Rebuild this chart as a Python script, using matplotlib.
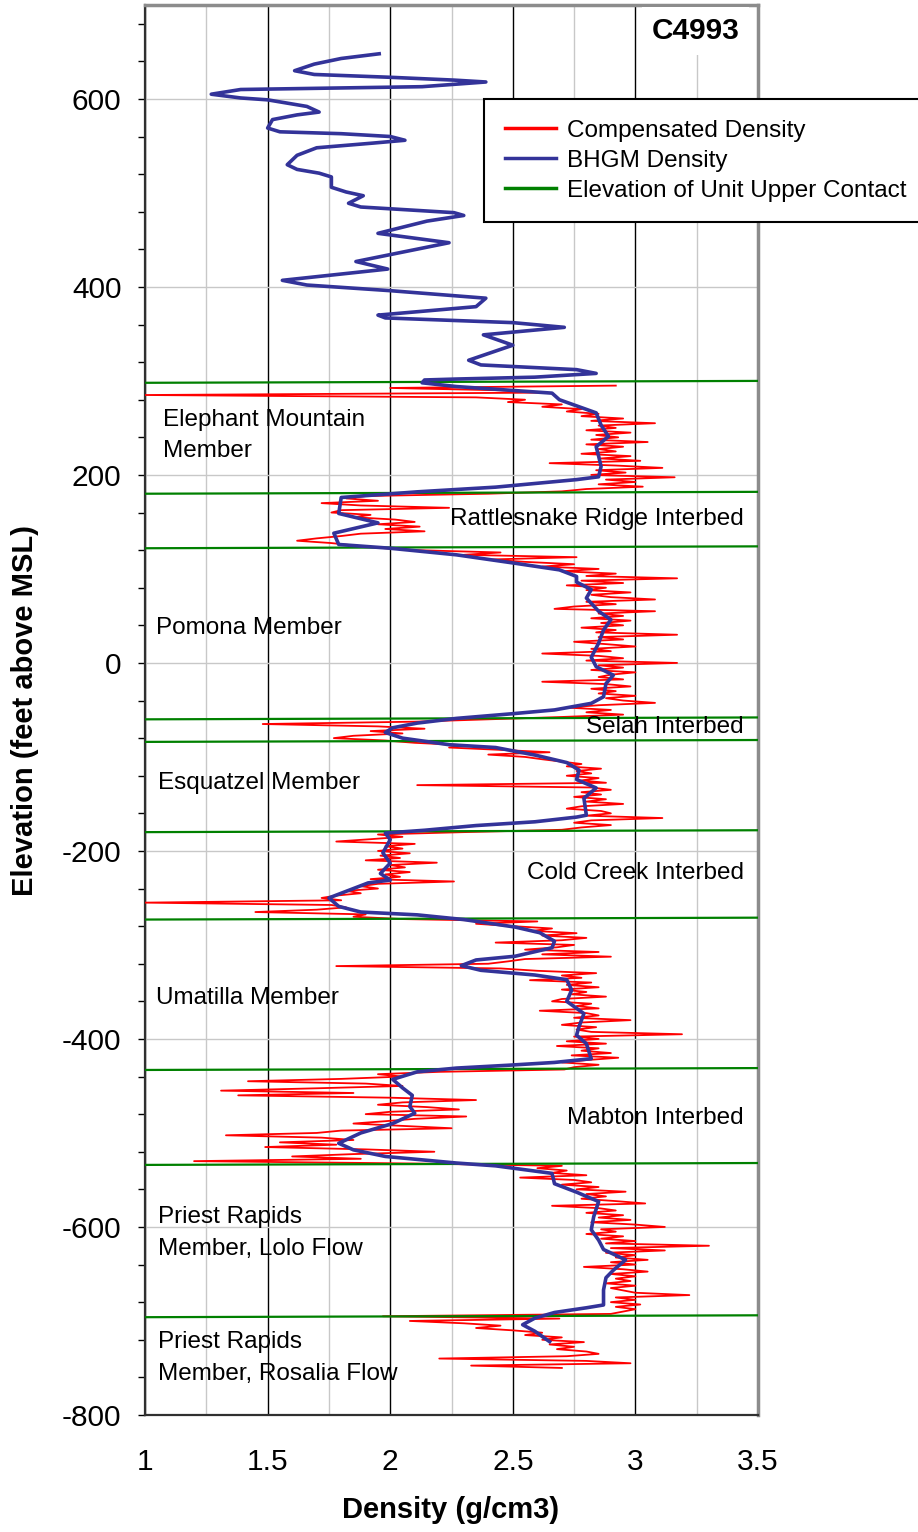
import numpy as np
import matplotlib.pyplot as plt
from matplotlib.lines import Line2D
from matplotlib.ticker import MultipleLocator, FuncFormatter

plt.rcParams['font.family'] = ['Liberation Sans', 'DejaVu Sans']
plt.rcParams['axes.unicode_minus'] = False

# BHGM density profile: elevation (ft above MSL) and density (g/cm3)
bhgm_elev = [648, 643, 637, 630, 626, 623, 620, 618, 613, 610, 605, 601, 599, 592, 586, 583,
             578, 569, 565, 563, 560, 556, 553, 548, 540, 530, 525, 521, 517, 506, 501, 497,
             489, 485, 482, 479, 476, 470, 457, 447, 427, 419, 407, 402, 396, 390, 388, 379,
             370, 367, 362, 357, 349, 338, 322, 317, 312, 308, 304, 302, 301, 298, 294, 287,
             280, 266, 253, 241, 230, 220, 209, 198, 195, 187, 182, 176, 159, 149, 138, 126,
             122, 115, 106, 99, 92, 86, 78, 69, 55, 46, 35, 21, 6, -4, -13, -22,
             -36, -43, -50, -54, -59, -64, -69, -74, -80, -87, -90, -98, -106, -114, -124, -133,
             -144, -162, -164, -169, -173, -178, -181, -188, -202, -213, -224, -231, -234, -240, -250, -259,
             -265, -268, -273, -281, -287, -296, -303, -312, -316, -322, -327, -332, -337, -348, -360, -373,
             -387, -396, -405, -421, -425, -428, -431, -435, -443, -452, -460, -472, -479, -490, -500, -511,
             -518, -525, -532, -535, -543, -554, -563, -573, -589, -603, -614, -624, -635, -646, -654, -667,
             -683, -686, -691, -697, -704, -711, -722]
bhgm_density = [1.955, 1.80, 1.69, 1.61, 1.69, 2.00, 2.26, 2.39, 2.13, 1.39, 1.27, 1.39, 1.50, 1.66, 1.71, 1.62,
                1.52, 1.50, 1.55, 1.80, 2.00, 2.06, 1.93, 1.70, 1.62, 1.58, 1.62, 1.71, 1.76, 1.76, 1.82, 1.89,
                1.83, 1.88, 2.07, 2.26, 2.30, 2.15, 1.95, 2.24, 1.86, 1.99, 1.56, 1.66, 2.00, 2.29, 2.39, 2.35,
                1.95, 1.98, 2.50, 2.71, 2.38, 2.50, 2.32, 2.37, 2.76, 2.84, 2.59, 2.27, 2.14, 2.13, 2.27, 2.66,
                2.69, 2.84, 2.86, 2.89, 2.84, 2.85, 2.86, 2.85, 2.76, 2.43, 2.11, 1.80, 1.79, 1.95, 1.77, 1.79,
                2.00, 2.27, 2.51, 2.69, 2.76, 2.76, 2.82, 2.80, 2.85, 2.90, 2.87, 2.85, 2.82, 2.84, 2.91, 2.88,
                2.87, 2.82, 2.67, 2.50, 2.27, 2.11, 2.01, 1.98, 2.05, 2.24, 2.43, 2.59, 2.72, 2.77, 2.76, 2.84,
                2.79, 2.80, 2.76, 2.59, 2.35, 2.14, 1.98, 2.00, 1.97, 2.00, 1.96, 2.00, 1.91, 1.85, 1.75, 1.79,
                1.88, 2.11, 2.30, 2.51, 2.61, 2.67, 2.66, 2.51, 2.35, 2.29, 2.37, 2.59, 2.72, 2.74, 2.72, 2.79,
                2.77, 2.76, 2.80, 2.82, 2.67, 2.48, 2.27, 2.11, 2.01, 2.05, 2.09, 2.08, 2.10, 2.01, 1.88, 1.79,
                1.85, 1.98, 2.27, 2.43, 2.66, 2.67, 2.76, 2.85, 2.83, 2.82, 2.85, 2.87, 2.96, 2.91, 2.88, 2.87,
                2.87, 2.80, 2.67, 2.59, 2.54, 2.59, 2.65]

# compensated density log, sampled every 2.5 ft from 295 ft down to -750 ft,
# one list per unit
comp_top = 295
comp_step = 2.5
comp_elephant = [2.92, 2.00, 2.45, 2.60, 1.00, 2.35, 2.55, 2.48, 2.70, 2.62,
                 2.78, 2.72, 2.85, 2.78, 2.95, 2.82, 3.08, 2.85, 2.92, 2.80,
                 2.98, 2.84, 2.93, 2.82, 3.05, 2.80, 2.95, 2.85, 2.92, 2.78,
                 2.98, 2.86, 3.02, 2.65, 2.92, 3.11, 2.84, 2.96, 2.82, 3.16,
                 2.88, 3.00, 2.85, 3.03, 2.80, 2.70]
comp_rattlesnake = [2.40, 1.90, 1.82, 1.95, 1.72, 1.88, 2.24, 1.80, 1.76, 1.92,
                    1.85, 2.02, 2.10, 1.95, 2.12, 1.98, 2.14, 1.88, 1.80, 1.70,
                    1.62, 1.76, 1.85, 1.95]
comp_pomona = [2.10, 2.45, 2.30, 2.76, 2.40, 2.55, 2.75, 2.62, 2.85, 2.70, 2.92,
               2.80, 3.17, 2.78, 2.95, 2.72, 2.88, 2.80, 2.98, 2.82, 2.90,
               3.08, 2.80, 2.92, 2.75, 2.67, 3.08, 2.85, 2.95, 2.82, 2.98,
               2.86, 2.95, 2.78, 2.92, 2.84, 3.17, 2.85, 2.95, 2.75, 2.88,
               3.00, 2.82, 2.90, 2.62, 2.85, 2.95, 2.80, 3.17, 2.85, 2.95,
               2.82, 3.00, 2.90, 2.85, 2.95, 2.62, 2.88, 2.98, 2.82, 2.92,
               2.85, 3.00, 2.88, 2.95, 3.08, 2.85, 2.72, 2.90, 2.80, 2.95,
               2.70]
comp_selah = [2.40, 2.10, 1.48, 1.95, 2.14, 1.92, 2.05, 1.85, 1.77, 1.98]
comp_esquatzel = [2.10, 2.30, 2.24, 2.45, 2.65, 2.40, 2.55, 2.62, 2.70, 2.78,
                  2.72, 2.86, 2.76, 2.82, 2.72, 2.85, 2.78, 2.88, 2.11, 2.82,
                  2.90, 2.78, 2.86, 2.75, 2.88, 2.80, 2.95, 2.78, 2.72, 2.86,
                  2.90, 2.80, 3.11, 2.82, 2.75, 2.90, 2.78, 2.70]
comp_cold_creek = [2.30, 1.95, 2.05, 1.92, 1.78, 2.10, 1.98, 2.05, 1.95, 2.08,
                   1.96, 2.04, 1.90, 2.19, 2.00, 2.06, 1.95, 2.08, 1.98, 2.04,
                   1.92, 2.26, 1.95, 1.88, 1.95, 1.82, 1.88, 1.78, 1.72, 1.80,
                   1.00, 1.76, 1.82, 1.70, 1.45, 1.90, 1.85, 2.05]
comp_umatilla = [2.60, 2.35, 2.50, 2.66, 2.58, 2.76, 2.62, 2.80, 2.70, 2.43,
                 2.75, 2.68, 2.55, 2.85, 2.62, 2.90, 2.55, 2.48, 2.40, 1.78,
                 2.45, 2.60, 2.84, 2.70, 2.78, 2.57, 2.82, 2.72, 2.85, 2.70,
                 2.80, 2.74, 2.88, 2.70, 2.66, 2.82, 2.76, 2.85, 2.61, 2.80,
                 2.85, 2.75, 2.98, 2.78, 2.70, 2.84, 2.76, 2.82, 3.19, 2.75,
                 2.85, 2.72, 2.88, 2.68, 2.85, 2.78, 2.90, 2.74, 2.93, 2.80,
                 2.70, 2.85, 2.75, 2.71]
comp_mabton = [2.20, 1.95, 2.05, 1.80, 1.42, 1.90, 2.05, 1.70, 1.31, 1.85,
               1.38, 2.00, 2.35, 2.05, 1.95, 2.15, 2.28, 2.00, 1.90, 2.31,
               2.10, 1.98, 1.85, 2.05, 2.25, 1.80, 1.70, 1.33, 1.72, 1.85,
               1.55, 1.78, 1.49, 1.90, 2.18, 1.85, 1.60, 1.88, 1.20, 2.10]
comp_lolo = [2.70, 2.60, 2.72, 2.66, 2.80, 2.53, 2.75, 2.82, 2.70, 2.85,
             2.76, 2.96, 2.80, 2.88, 2.78, 2.92, 3.04, 2.66, 2.85, 2.92,
             2.80, 2.95, 2.85, 2.98, 2.82, 3.00, 3.12, 2.86, 2.92, 2.80,
             2.95, 2.86, 3.00, 2.88, 3.30, 2.90, 3.12, 2.88, 3.00, 2.92,
             3.05, 2.90, 3.00, 2.79, 2.95, 3.05, 2.90, 3.00, 2.92, 2.98,
             2.88, 3.00, 2.90, 2.95, 3.00, 3.22, 2.92, 3.00, 2.90, 3.02,
             2.92, 3.00, 2.95, 2.90]
comp_rosalia = [1.97, 2.69, 2.08, 2.30, 2.45, 2.35, 2.50, 2.62, 2.55, 2.70,
                2.62, 2.79, 2.65, 2.75, 2.68, 2.80, 2.85, 2.72, 2.20, 2.80,
                2.98, 2.33, 2.70]

# elevation of each unit's upper contact (ft), left and right ends
contact_left = [298, 180, 122, -60, -84, -180, -273, -433, -534, -696]
contact_right = [300, 182, 124, -58, -82, -178, -271, -431, -532, -694]

unit_names = ['Elephant Mountain\nMember', 'Rattlesnake Ridge Interbed', 'Pomona Member',
              'Selah Interbed', 'Esquatzel Member', 'Cold Creek Interbed', 'Umatilla Member',
              'Mabton Interbed', 'Priest Rapids\nMember, Lolo Flow',
              'Priest Rapids\nMember, Rosalia Flow']

comp_density = np.concatenate([comp_elephant, comp_rattlesnake, comp_pomona, comp_selah,
                               comp_esquatzel, comp_cold_creek, comp_umatilla, comp_mabton,
                               comp_lolo, comp_rosalia])
comp_elev = comp_top - comp_step * np.arange(len(comp_density))

fig = plt.figure(figsize=(9.18, 15.32), dpi=100)
ax = fig.add_axes([0.158, 0.0764, 0.6677, 0.9204])

red = '#ff0000'
blue = '#333399'
green = '#008000'

ax.plot(comp_density, comp_elev, color=red, lw=1.3, zorder=3)
for yl, yr in zip(contact_left, contact_right):
    ax.plot([1, 3.5], [yl, yr], color=green, lw=1.6, zorder=4)
ax.plot(bhgm_density, bhgm_elev, color=blue, lw=2.6, zorder=5, solid_joinstyle='round')

ax.set_xlim(1, 3.5)
ax.set_ylim(-800, 700)
ax.xaxis.set_major_locator(MultipleLocator(0.5))
ax.xaxis.set_minor_locator(MultipleLocator(0.25))
ax.yaxis.set_major_locator(MultipleLocator(200))
ax.yaxis.set_minor_locator(MultipleLocator(40))
ax.xaxis.set_major_formatter(FuncFormatter(lambda v, p: '%g' % v))

ax.grid(which='major', axis='x', color='black', lw=1.0)
ax.grid(which='minor', axis='x', color='#c8c8c8', lw=1.0)
ax.grid(which='major', axis='y', color='#c8c8c8', lw=1.0)
ax.set_axisbelow(True)

ax.tick_params(axis='x', which='both', length=0, pad=24, labelsize=21.5)
ax.tick_params(axis='y', which='both', direction='out', length=5, width=1, pad=12, labelsize=21.5)

for side in ['top', 'right']:
    ax.spines[side].set_color('#8c8c8c')
    ax.spines[side].set_linewidth(2.5)
for side in ['left', 'bottom']:
    ax.spines[side].set_color('#303030')
    ax.spines[side].set_linewidth(1.6)

# unit names: (x, elevation, alignment)
places = [(1.073, 242, 'left'), (3.441, 153, 'right'), (1.045, 37, 'left'),
          (3.441, -68, 'right'), (1.053, -128, 'left'), (3.441, -223, 'right'),
          (1.045, -356, 'left'), (3.441, -484, 'right'), (1.053, -606, 'left'),
          (1.053, -739, 'left')]
for name, (x, y, ha) in zip(unit_names, places):
    ax.text(x, y, name, ha=ha, va='center', fontsize=17.5, linespacing=1.58, zorder=6)

ax.text(3.245, 672, 'C4993', ha='center', va='center', fontsize=21.5, weight='bold',
        bbox=dict(fc='white', ec='none', pad=7), zorder=7)

fig.text(0.4913, 1 - 1510 / 1532, 'Density (g/cm3)', ha='center', va='center',
         fontsize=21, weight='bold')
fig.text(25 / 918, 1 - 710 / 1532, 'Elevation (feet above MSL)', ha='center', va='center',
         rotation=90, fontsize=21, weight='bold')

handles = [Line2D([], [], color=red, lw=2.5), Line2D([], [], color=blue, lw=2.5),
           Line2D([], [], color=green, lw=2.5)]
labels = ['Compensated Density', 'BHGM Density', 'Elevation of Unit Upper Contact']
leg = fig.legend(handles, labels, loc='upper left', bbox_to_anchor=(484 / 918, 1 - 99 / 1532),
                 fontsize=17.5, frameon=True, fancybox=False, framealpha=1, edgecolor='black',
                 handlelength=2.1, handletextpad=0.45, borderpad=0.85, labelspacing=0.33,
                 borderaxespad=0)
leg.get_frame().set_linewidth(1.5)

fig.savefig('out.png', dpi=100)
